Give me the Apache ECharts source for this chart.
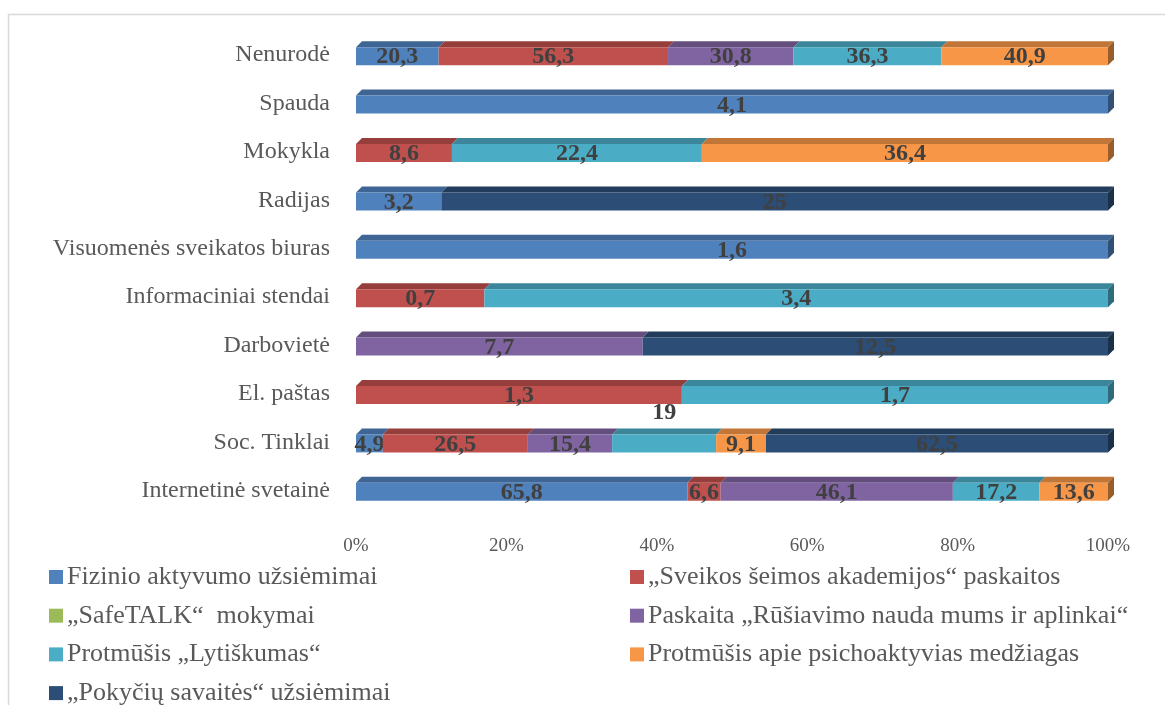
<!DOCTYPE html>
<html>
<head>
<meta charset="utf-8">
<script src="https://cdn.jsdelivr.net/npm/echarts@6/dist/echarts.min.js"></script>
<style>
  html, body { margin: 0; padding: 0; background: #fff; }
  #chart { width: 1165px; height: 705px; }
</style>
</head>
<body>
<div id="chart"></div>
<script>
// categories, top to bottom as in the picture
const categories = ['Nenurodė', 'Spauda', 'Mokykla', 'Radijas', 'Visuomenės sveikatos biuras',
    'Informaciniai stendai', 'Darbovietė', 'El. paštas', 'Soc. Tinklai', 'Internetinė svetainė'];

const seriesNames = [
    'Fizinio aktyvumo užsiėmimai',
    '„Sveikos šeimos akademijos“ paskaitos',
    '„SafeTALK“  mokymai',
    'Paskaita „Rūšiavimo nauda mums ir aplinkai“',
    'Protmūšis „Lytiškumas“',
    'Protmūšis apie psichoaktyvias medžiagas',
    '„Pokyčių savaitės“ užsiėmimai'
];

const fizinio    = [20.3, 4.1, null, 3.2, 1.6, null, null, null, 4.9, 65.8];
const sveikos    = [56.3, null, 8.6, null, null, 0.7, null, 1.3, 26.5, 6.6];
const safetalk   = [null, null, null, null, null, null, null, null, null, null];
const rusiavimo  = [30.8, null, null, null, null, null, 7.7, null, 15.4, 46.1];
const lytiskumas = [36.3, null, 22.4, null, null, 3.4, null, 1.7, 19, 17.2];
const psicho     = [40.9, null, 36.4, null, null, null, null, null, 9.1, 13.6];
const pokyciu    = [null, null, null, 25, null, null, 12.5, null, 62.5, null];

const xTicks = [0, 20, 40, 60, 80, 100];

const values = [fizinio, sveikos, safetalk, rusiavimo, lytiskumas, psicho, pokyciu];
const colors = ['#4F81BD', '#C0504D', '#9BBB59', '#8064A2', '#4BACC6', '#F79646', '#2C4D75'];

const serif = '"Liberation Serif", "Times New Roman", serif';

function shade(hex, f) {
    const n = parseInt(hex.slice(1), 16);
    const r = Math.round(((n >> 16) & 255) * f);
    const g = Math.round(((n >> 8) & 255) * f);
    const b = Math.round((n & 255) * f);
    return 'rgb(' + r + ',' + g + ',' + b + ')';
}

// 100% stacking: each row is shown as shares of its own total
const totals = categories.map((c, i) => values.reduce((s, arr) => s + (arr[i] || 0), 0));
const starts = categories.map(() => 0);
const stacked = values.map(arr => arr.map((v, i) => {
    if (v == null || v === 0) return null;
    const s = starts[i];
    const e = s + v / totals[i] * 100;
    starts[i] = e;
    return [s, e, i, v];
}));

// one label in the picture sits above its bar
const labelShift = { '4-8': -32 };

function render(si) {
    return function (params, api) {
        const s = api.value(0), e = api.value(1), ci = api.value(2), raw = api.value(3);
        const p0 = api.coord([s, ci]);
        const p1 = api.coord([e, ci]);
        const h = 18, d = 6;
        const yT = p0[1] - h / 2 + 1, yB = yT + h;
        const col = colors[si];
        const children = [
            { type: 'polygon', shape: { points: [[p0[0], yT], [p0[0] + d, yT - d], [p1[0] + d, yT - d], [p1[0], yT]] },
              style: { fill: shade(col, 0.78) } },
            { type: 'rect', shape: { x: p0[0], y: yT, width: p1[0] - p0[0], height: h },
              style: { fill: col } }
        ];
        if (e > 99.9) {
            children.push({ type: 'polygon', shape: { points: [[p1[0], yT], [p1[0] + d, yT - d], [p1[0] + d, yB - d], [p1[0], yB]] },
                style: { fill: shade(col, 0.62) } });
        }
        const dy = labelShift[si + '-' + ci] || 0;
        children.push({ type: 'text', style: {
            text: String(raw).replace('.', ','),
            x: (p0[0] + p1[0]) / 2, y: (yT + yB) / 2 + 1 + dy,
            align: 'center', verticalAlign: 'middle',
            font: 'bold 24px ' + serif, fill: '#404040'
        } });
        return { type: 'group', children: children };
    };
}

const legendBase = {
    orient: 'vertical', top: 564, height: 220, padding: 0, itemGap: 12.7,
    icon: 'rect', itemWidth: 14, itemHeight: 14,
    textStyle: { color: '#595959', fontSize: 26, lineHeight: 20, fontFamily: serif, padding: [0, 0, 0, -1] }
};

const chart = echarts.init(document.getElementById('chart'));
chart.setOption({
    animation: false,
    color: colors,
    grid: { left: 356, right: 57, top: 31, height: 484 },
    xAxis: {
        type: 'value', min: 0, max: 100, interval: 20,
        axisLine: { show: false }, axisTick: { show: false }, splitLine: { show: false },
        axisLabel: { formatter: v => xTicks.includes(v) ? v + '%' : '', color: '#595959', fontSize: 19,
            fontFamily: serif, margin: 22 }
    },
    yAxis: {
        type: 'category', data: categories, inverse: true,
        axisLine: { show: false }, axisTick: { show: false },
        axisLabel: { color: '#595959', fontSize: 24, fontFamily: serif, margin: 26 }
    },
    legend: [
        Object.assign({}, legendBase, { data: [0, 2, 4, 6].map(i => seriesNames[i]), left: 49 }),
        Object.assign({}, legendBase, { data: [1, 3, 5].map(i => seriesNames[i]), left: 630 })
    ],
    graphic: [{
        type: 'rect', shape: { x: 8.5, y: 14.5, width: 1200, height: 800 },
        style: { fill: 'none', stroke: '#d9d9d9', lineWidth: 1.5 }, silent: true
    }],
    series: stacked.map((data, si) => ({
        type: 'custom', name: seriesNames[si],
        itemStyle: { color: colors[si] },
        renderItem: render(si),
        encode: { x: [0, 1], y: 2 },
        clip: false,
        data: data.filter(d => d != null)
    }))
});
</script>
</body>
</html>
